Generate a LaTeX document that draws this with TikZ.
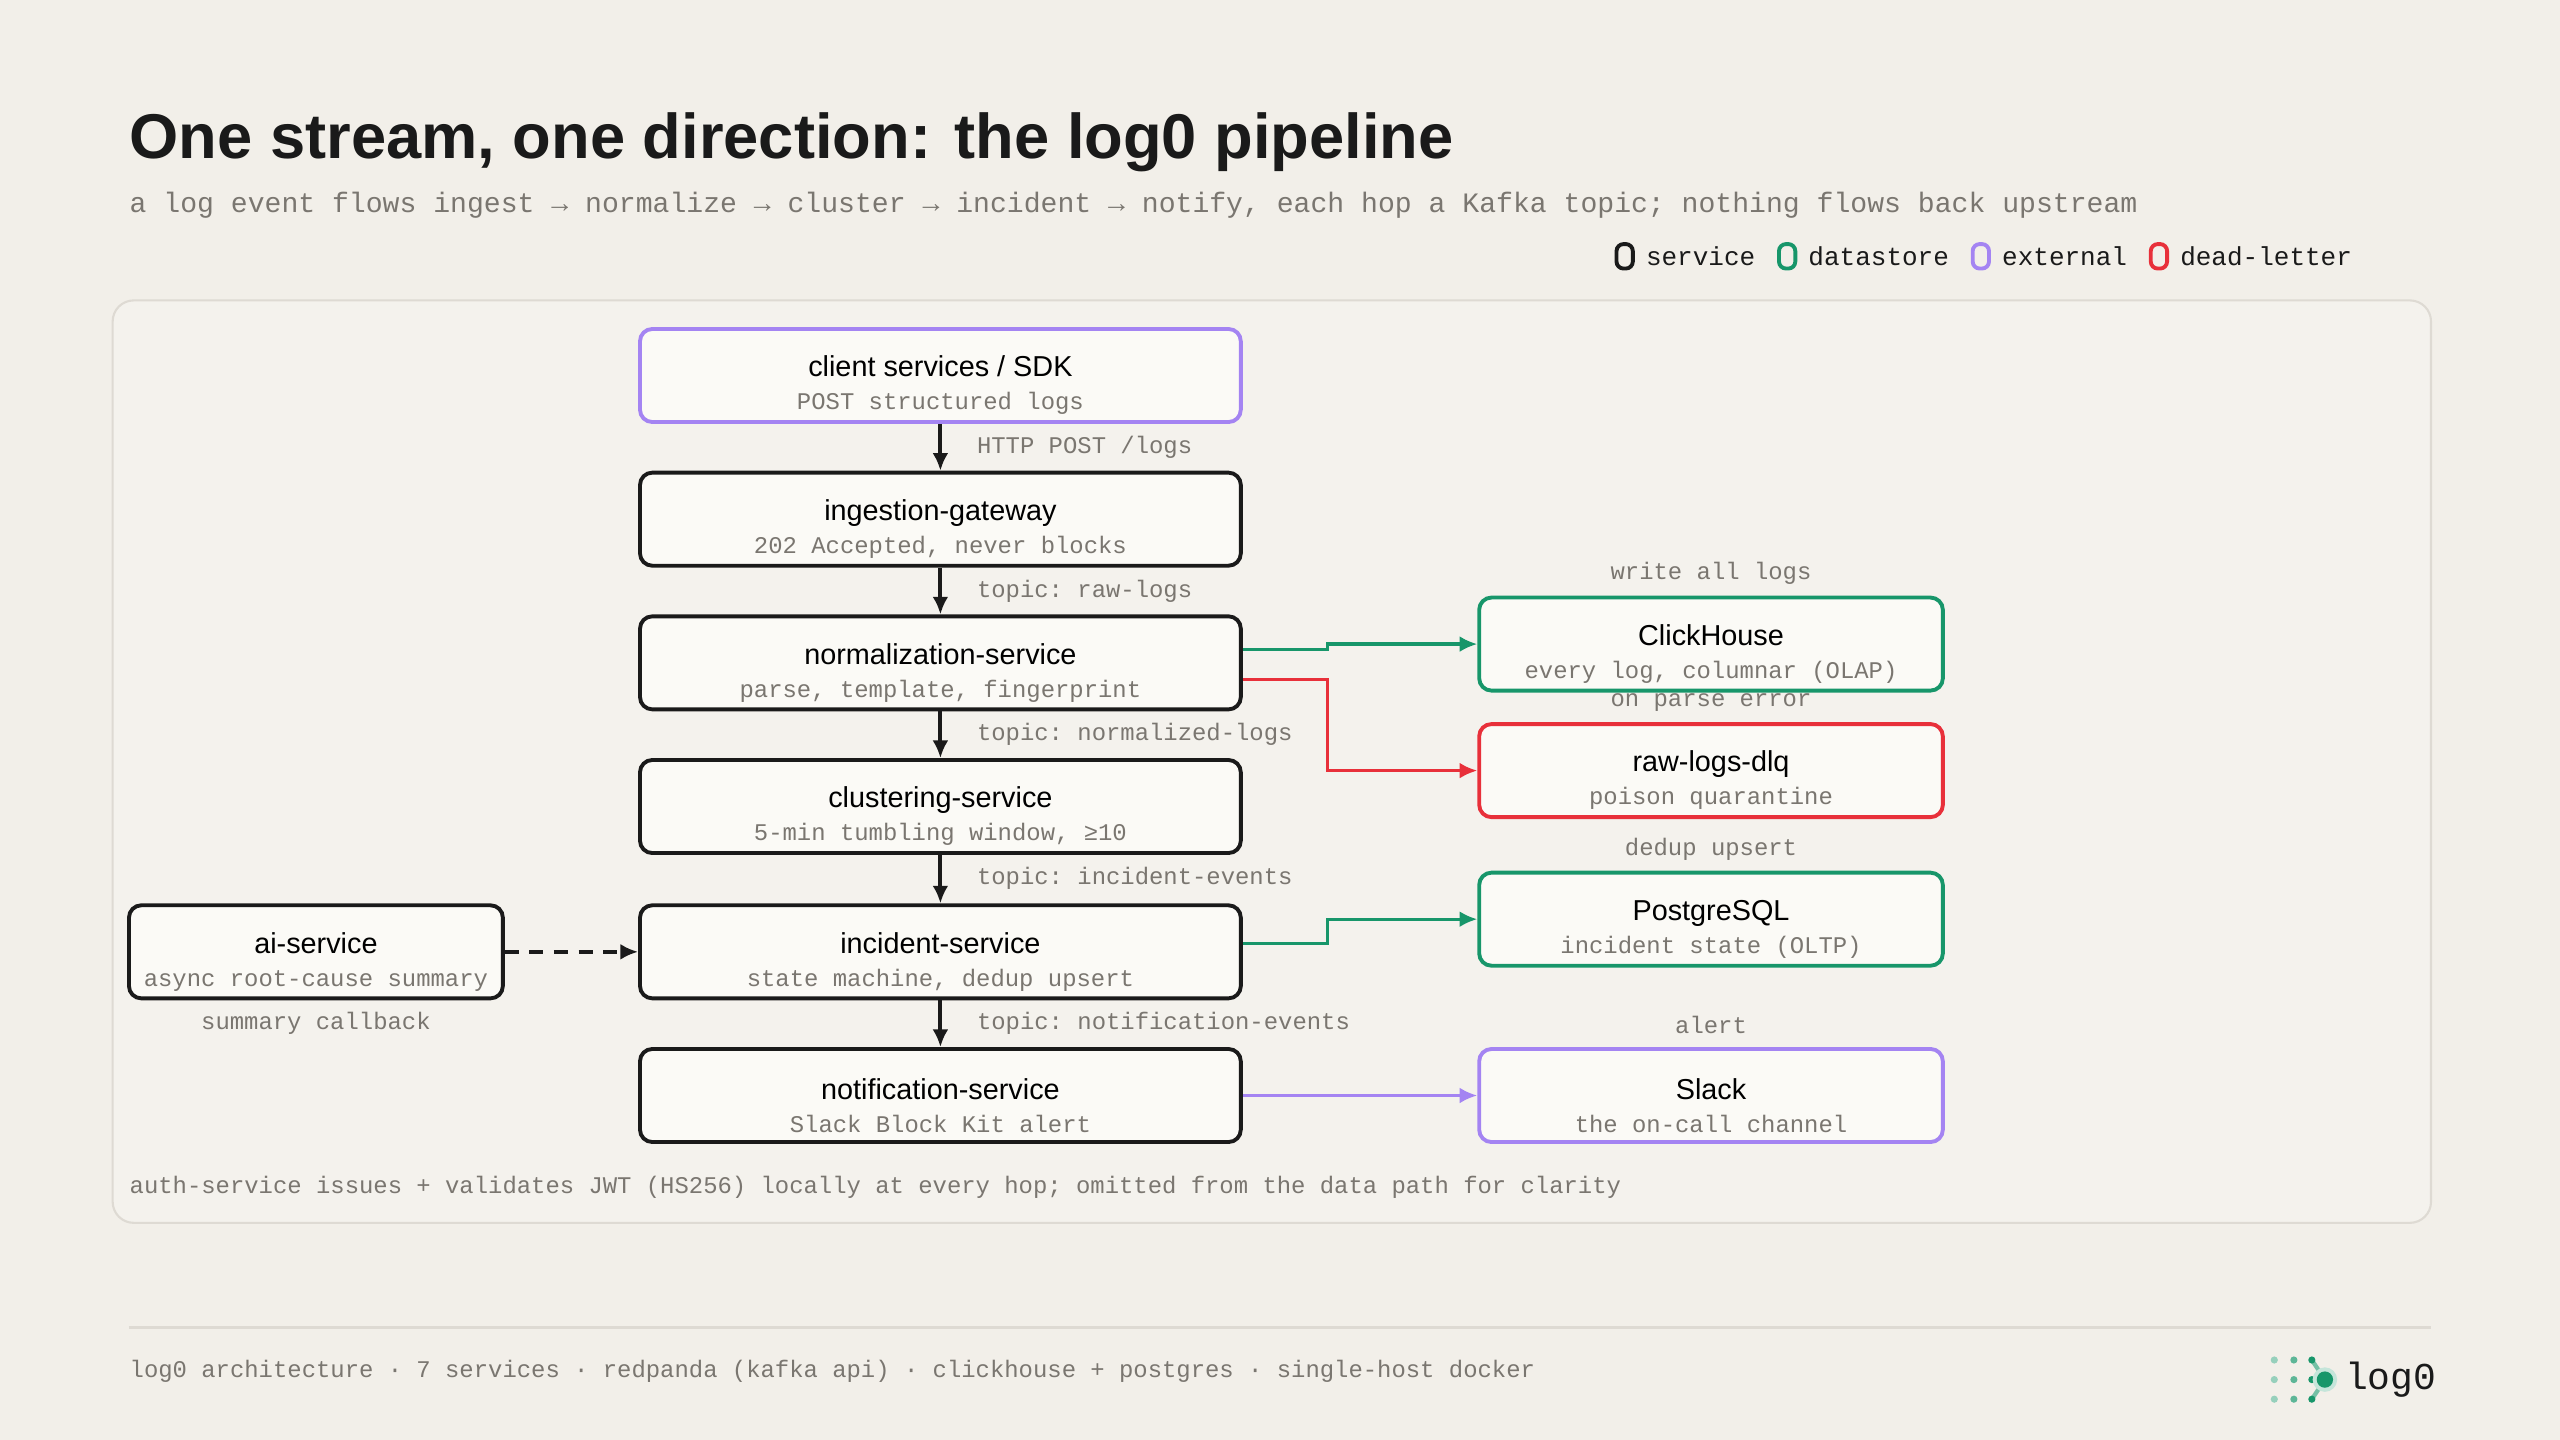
\documentclass[tikz,border=0pt]{standalone}
\usepackage{fontspec}
\setmainfont{Liberation Sans}
\setmonofont{Liberation Mono}
\usetikzlibrary{positioning,arrows.meta}
\definecolor{bgc}{HTML}{F2EFE9}
\definecolor{panelc}{HTML}{F4F2ED}
\definecolor{panelline}{HTML}{DEDAD3}
\definecolor{boxfill}{HTML}{FBFAF6}
\definecolor{inkc}{HTML}{1A1A1A}
\definecolor{greyt}{HTML}{7A7670}
\definecolor{greenc}{HTML}{17966A}
\definecolor{purplec}{HTML}{A484F2}
\definecolor{redc}{HTML}{E8303A}
\tikzset{
  box/.style={draw=inkc, line width=1.1pt, rounded corners=3.5pt, fill=boxfill,
    minimum height=57*0.016327cm, align=center, inner sep=0pt},
  midbox/.style={box, minimum width=368*0.016327cm},
  sidebox/.style={box, minimum width=284*0.016327cm},
  datastore/.style={sidebox, draw=greenc},
  external/.style={draw=purplec},
  deadletter/.style={sidebox, draw=redc},
  lbl/.style={font=\ttfamily\fontsize{6.8}{8}\selectfont, text=greyt, inner sep=0pt},
  flow/.style={-{Latex[length=5pt,width=4.5pt]}, line width=1.1pt, draw=inkc},
  legbox/.style={draw=#1, line width=1.1pt, rounded corners=2pt, minimum width=10*0.016327cm, minimum height=15*0.016327cm, inner sep=0pt},
  legtext/.style={inner sep=0pt, font=\ttfamily\fontsize{7.4}{9}\selectfont, text=inkc},
}
\newcommand{\boxtext}[2]{{\fontsize{8.2}{9}\selectfont\rule{0pt}{11.5pt}#1}\\[-2.6pt]{\ttfamily\fontsize{6.8}{8}\selectfont\color{greyt}#2}}
\begin{document}
\begin{tikzpicture}[x=0.016327cm, y=-0.016327cm]
  \fill[bgc] (0,0) rectangle (1568,882);
  \useasboundingbox (0,0) rectangle (1568,882);
  % heading
  \node[anchor=base west, inner sep=0pt, font=\bfseries\fontsize{18}{21}\selectfont, text=inkc] (title) at (79,97) {One stream, one direction: the log0 pipeline};
  \node[anchor=base west, inner sep=0pt, font=\ttfamily\fontsize{8}{10}\selectfont, text=greyt] (subtitle) at (79,130) {a log event flows ingest → normalize → cluster → incident → notify, each hop a Kafka topic; nothing flows back upstream};
  % legend
  \node[legtext, anchor=east] (legdl) at (1441,157) {dead-letter};
  \node[legbox=redc, left=3pt of legdl] (legdlbox) {};
  \node[legtext, left=6pt of legdlbox] (legext) {external};
  \node[legbox=purplec, left=3pt of legext] (legextbox) {};
  \node[legtext, left=6pt of legextbox] (legds) {datastore};
  \node[legbox=greenc, left=3pt of legds] (legdsbox) {};
  \node[legtext, left=6pt of legdsbox] (legsvc) {service};
  \node[legbox=inkc, left=3pt of legsvc] (legsvcbox) {};
  % panel
  \draw[panelline, fill=panelc, line width=0.6pt, rounded corners=6pt] (69,184) rectangle (1489,749);
  % main column
  \node[midbox, external] (client) at (576,230) {\boxtext{client services / SDK}{POST structured logs}};
  \node[midbox] (gateway) at (576,318) {\boxtext{ingestion-gateway}{202 Accepted, never blocks}};
  \node[midbox] (normalize) at (576,406) {\boxtext{normalization-service}{parse, template, fingerprint}};
  \node[midbox] (cluster) at (576,494) {\boxtext{clustering-service}{5-min tumbling window, ≥10}};
  \node[midbox] (incident) at (576,583) {\boxtext{incident-service}{state machine, dedup upsert}};
  \node[midbox] (notify) at (576,671) {\boxtext{notification-service}{Slack Block Kit alert}};
  % side column
  \node[datastore] (clickhouse) at (1048,394.5) {\boxtext{ClickHouse}{every log, columnar (OLAP)}};
  \node[deadletter] (dlq) at (1048,472) {\boxtext{raw-logs-dlq}{poison quarantine}};
  \node[datastore] (postgres) at (1048,563) {\boxtext{PostgreSQL}{incident state (OLTP)}};
  \node[sidebox, external] (slack) at (1048,671) {\boxtext{Slack}{the on-call channel}};
  \node[box, minimum width=229*0.016327cm] (ai) at (193.5,583) {\boxtext{ai-service}{async root-cause summary}};
  % flows down the column
  \draw[flow] (client) -- (gateway);
  \draw[flow] (gateway) -- (normalize);
  \draw[flow] (normalize) -- (cluster);
  \draw[flow] (cluster) -- (incident);
  \draw[flow] (incident) -- (notify);
  \node[lbl, anchor=west] at (598,274) {HTTP POST /logs};
  \node[lbl, anchor=west] at (598,362) {topic: raw-logs};
  \node[lbl, anchor=west] at (598,450) {topic: normalized-logs};
  \node[lbl, anchor=west] at (598,538) {topic: incident-events};
  \node[lbl, anchor=west] at (598,627) {topic: notification-events};
  % side flows
  \draw[flow, draw=greenc, line width=0.9pt] ([yshift=8*0.016327cm]normalize.east) -| (813,394.5) -- (clickhouse.west);
  \draw[flow, draw=redc, line width=0.9pt] ([yshift=-10*0.016327cm]normalize.east) -| (813,472) -- (dlq.west);
  \draw[flow, draw=greenc, line width=0.9pt] ([yshift=5*0.016327cm]incident.east) -| (813,563) -- (postgres.west);
  \draw[flow, draw=purplec, line width=0.9pt] (notify) -- (slack);
  \draw[flow, dashed, dash pattern=on 4pt off 3pt] (ai) -- (incident);
  \node[lbl] at (1048,351) {write all logs};
  \node[lbl] at (1048,430) {on parse error};
  \node[lbl] at (1048,520) {dedup upsert};
  \node[lbl] at (1048,628) {alert};
  \node[lbl] at (193.5,627) {summary callback};
  \node[lbl, anchor=west] at (79,727) {auth-service issues + validates JWT (HS256) locally at every hop; omitted from the data path for clarity};
  % footer
  \draw[panelline, line width=0.7pt] (79,813) -- (1489,813);
  \node[lbl, anchor=west] (footer) at (79,840) {log0 architecture · 7 services · redpanda (kafka api) · clickhouse + postgres · single-host docker};
  % logo
  \foreach \yy in {833,845,857} {
    \draw[greenc!60, line width=1.2pt] (1416,\yy) -- (1424,845);
    \fill[greenc!45] (1393,\yy) circle (2.2);
    \fill[greenc!70] (1405,\yy) circle (2.2);
    \fill[greenc] (1416,\yy) circle (2.2);
  }
  \fill[greenc!25] (1424,845) circle (7.5);
  \fill[greenc] (1424,845) circle (5);
  \node[anchor=west, inner sep=0pt, font=\ttfamily\fontsize{10.8}{13}\selectfont, text=inkc] (logo) at (1436,845) {log0};
\end{tikzpicture}
\end{document}
